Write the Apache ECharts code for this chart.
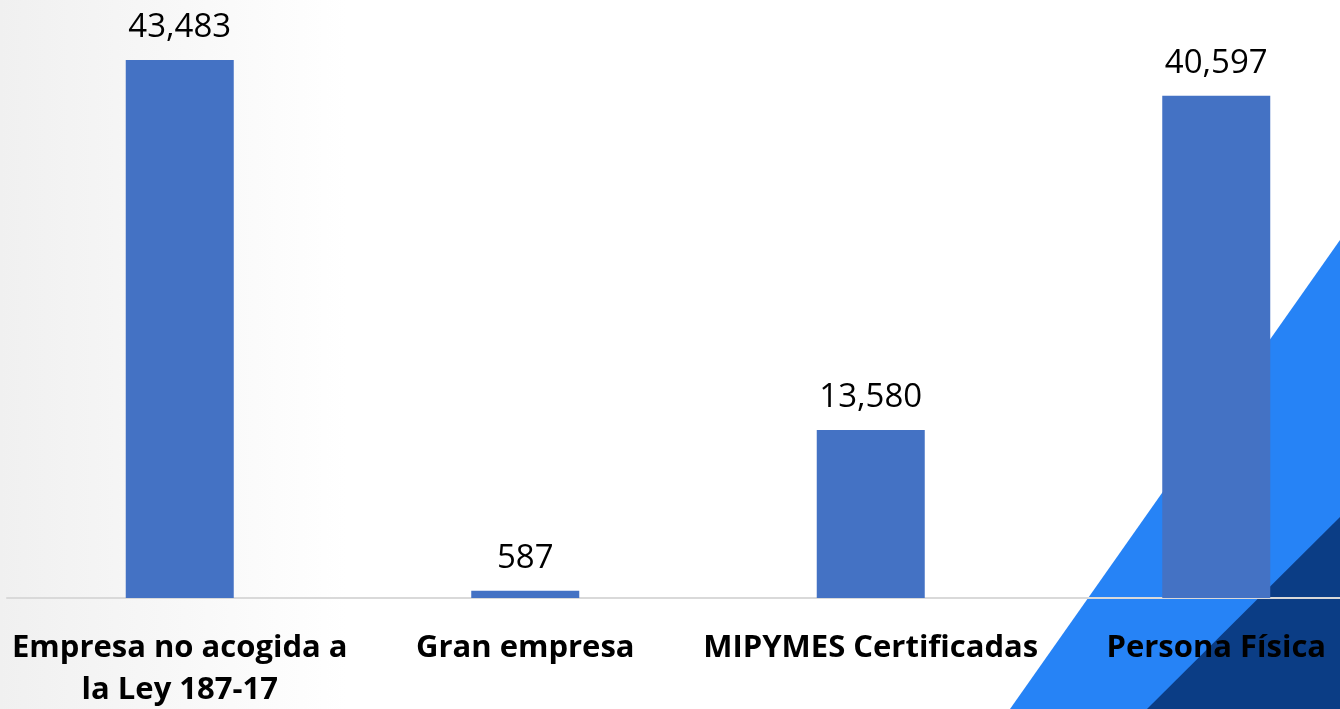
<!DOCTYPE html>
<html>
<head>
<meta charset="utf-8">
<script src="https://cdn.jsdelivr.net/npm/echarts@6/dist/echarts.min.js"></script>
<style>
  html, body { margin: 0; padding: 0; background: #fff; overflow: hidden; }
  #chart { width: 1389px; height: 709px; }
</style>
</head>
<body>
<div id="chart"></div>
<script>
// datos
var categorias = ['Empresa no acogida a\nla Ley 187-17', 'Gran empresa', 'MIPYMES Certificadas', 'Persona Física'];
var valores = [43483, 587, 13580, 40597];

// el div es más ancho que la ventana: la ultima categoria queda recortada como en el original
var chart = echarts.init(document.getElementById('chart'));
var option = {
    backgroundColor: {
        type: 'linear', x: 0, y: 0, x2: 1, y2: 0,
        colorStops: [
            { offset: 0, color: '#f0f0f0' },
            { offset: 0.25, color: '#ffffff' },
            { offset: 1, color: '#ffffff' }
        ]
    },
    // triangulos azules decorativos (fondo)
    graphic: [
        {
            type: 'polygon', z: -10,
            shape: { points: [[1340, 240], [1340, 709], [1010, 709]] },
            style: { fill: '#2683f6' }
        },
        {
            type: 'polygon', z: -9,
            shape: { points: [[1340, 517], [1340, 709], [1147, 709]] },
            style: { fill: '#0b3d85' }
        }
    ],
    grid: { left: 7, right: 0, top: 0, bottom: 111, outerBoundsMode: 'none' },
    xAxis: {
        type: 'category',
        data: categorias,
        axisLine: { show: true, lineStyle: { color: '#d9d9d9', width: 2 } },
        axisTick: { show: false },
        axisLabel: {
            interval: 0,
            margin: 29,
            color: '#000',
            fontFamily: 'Open Sans',
            fontWeight: 'bold',
            fontSize: 31,
            lineHeight: 42
        }
    },
    yAxis: {
        type: 'value',
        min: 0,
        max: 48340,
        show: false,
        splitLine: { show: false }
    },
    series: [{
        type: 'bar',
        data: valores,
        barWidth: 108,
        itemStyle: { color: '#4472c4' },
        label: {
            show: true,
            position: 'top',
            distance: 16,
            color: '#000',
            fontFamily: 'Open Sans',
            fontSize: 33,
            formatter: function (p) {
                return p.value.toLocaleString('en-US');
            }
        }
    }]
};
chart.setOption(option);
</script>
</body>
</html>
